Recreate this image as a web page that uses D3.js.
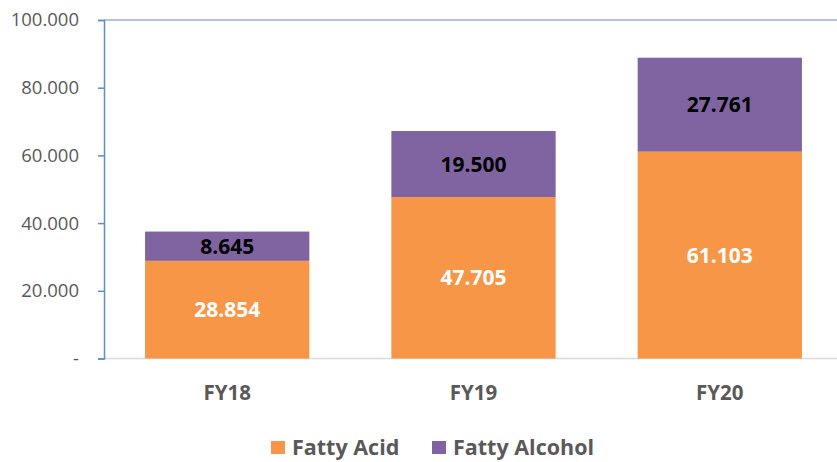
<!DOCTYPE html>
<html><head><meta charset="utf-8">
<script src="https://cdn.jsdelivr.net/npm/d3@7"></script>
<style>body{margin:0;background:#fff}svg{display:block}</style>
</head><body><svg id="c" width="837" height="462"></svg>
<script>
const categories = ["FY18", "FY19", "FY20"];
const fattyAcid = [28.854, 47.705, 61.103];
const fattyAlcohol = [8.645, 19.500, 27.761];
const seriesNames = ["Fatty Acid", "Fatty Alcohol"];
const yTicks = [0, 20, 40, 60, 80, 100];

const font = "'Open Sans', sans-serif";
const colors = ["#f79646", "#8064a2"];
const labelColors = ["#ffffff", "#000000"];
const svg = d3.select("#c");
const x = d3.scaleBand().domain(categories).range([104, 843]).paddingInner(0.333).paddingOuter(0.1667);
const y = d3.scaleLinear().domain([0, 100]).range([358.5, 20]);

const data = categories.map((c, i) => ({cat: c, "Fatty Acid": fattyAcid[i], "Fatty Alcohol": fattyAlcohol[i]}));
const stacked = d3.stack().keys(seriesNames)(data);

svg.append("line").attr("x1", 104).attr("x2", 837).attr("y1", y(0)).attr("y2", y(0))
  .attr("stroke", "#d9d9d9").attr("stroke-width", 1.5);
svg.append("line").attr("x1", 104).attr("x2", 837).attr("y1", y(100)).attr("y2", y(100))
  .attr("stroke", "#5b8bd0").attr("stroke-width", 1.2);

stacked.forEach((s, si) => {
  const g = svg.append("g");
  g.selectAll("rect").data(s).join("rect")
    .attr("x", d => x(d.data.cat)).attr("width", x.bandwidth())
    .attr("y", d => y(d[1])).attr("height", d => y(d[0]) - y(d[1]))
    .attr("fill", colors[si]);
  g.selectAll("text").data(s).join("text")
    .attr("x", d => x(d.data.cat) + x.bandwidth() / 2)
    .attr("y", d => (y(d[0]) + y(d[1])) / 2)
    .attr("dy", "0.36em").attr("text-anchor", "middle")
    .attr("font-family", font).attr("font-weight", "bold").attr("font-size", 21)
    .attr("fill", labelColors[si])
    .text(d => d3.format(".3f")(d[1] - d[0]));
});

const yAxis = d3.axisLeft(y).tickValues(yTicks).tickSize(6).tickPadding(19)
  .tickFormat(d => d === 0 ? "-" : d3.format(".3f")(d));
const ya = svg.append("g").attr("transform", "translate(104,0)").call(yAxis);
ya.select(".domain").attr("stroke", "#5b8bd0").attr("stroke-width", 1.5);
ya.selectAll(".tick line").attr("stroke", "#5b8bd0").attr("stroke-width", 1.5);
ya.selectAll(".tick text").attr("font-family", font).attr("font-size", 18.5).attr("fill", "#595959");

const xa = svg.append("g").attr("transform", `translate(0,${y(0)})`).call(d3.axisBottom(x).tickSize(0).tickPadding(27));
xa.select(".domain").remove();
xa.selectAll(".tick text").attr("font-family", font).attr("font-weight", "bold").attr("font-size", 20.5).attr("fill", "#595959");

const legX = [271, 432];
seriesNames.forEach((n, i) => {
  svg.append("rect").attr("x", legX[i]).attr("y", 441).attr("width", 14).attr("height", 13).attr("fill", colors[i]);
  svg.append("text").attr("x", legX[i] + 21).attr("y", 447.5).attr("dy", "0.36em")
    .attr("font-family", font).attr("font-weight", "bold").attr("font-size", 21.5).attr("fill", "#595959").text(n);
});
</script></body></html>
